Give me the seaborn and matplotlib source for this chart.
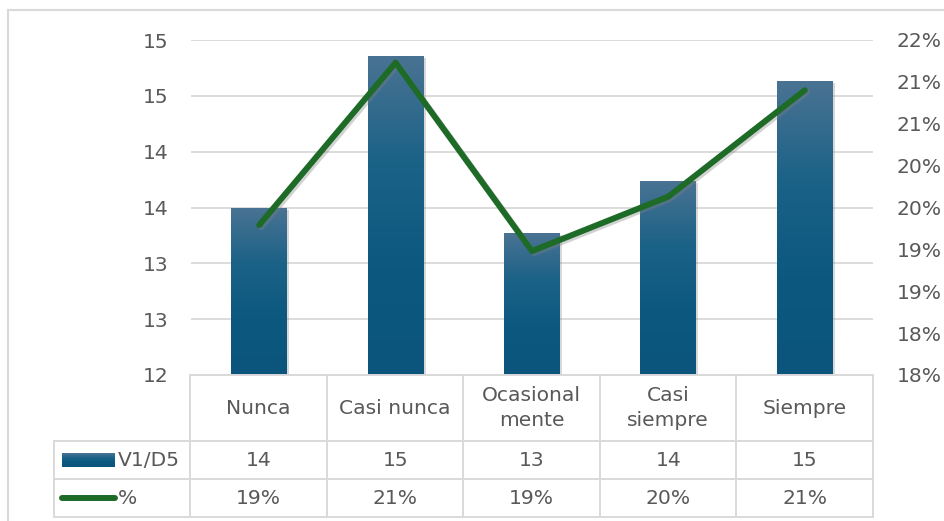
import numpy as np
import pandas as pd
import matplotlib.pyplot as plt
import seaborn as sns
from matplotlib import patheffects as pe
from matplotlib.colors import LinearSegmentedColormap
from matplotlib.lines import Line2D

# data
categories = ["Nunca", "Casi nunca", "Ocasionalmente", "Casi siempre", "Siempre"]
header_labels = ["Nunca", "Casi nunca", "Ocasional\nmente", "Casi\nsiempre", "Siempre"]
v1_d5 = [13.50, 14.86, 13.27, 13.74, 14.63]
pct = [0.1929, 0.2123, 0.1898, 0.1963, 0.2090]
bar_name = "V1/D5"
line_name = "%"

left_ticks = np.arange(12, 15.001, 0.5)
right_ticks = np.arange(0.175, 0.2151, 0.005)

TEXT = "#595959"
GRID = "#d9d9d9"
GREEN = "#1e6b28"
bar_cmap = LinearSegmentedColormap.from_list("bar", ["#4a7393", "#1b6287", "#0c587f", "#0b557c"])

W, H = 945, 521


def fx(px):
    return px / W


def fy(py):
    return 1 - py / H


def excel_round(v):
    # half-up rounding like the spreadsheet number format
    return int(np.floor(round(v, 6) + 0.5))


sns.set_theme(style="white")
plt.rcParams['font.family'] = ['DejaVu Sans']
FS = 14.6

df = pd.DataFrame({"categoria": categories, bar_name: v1_d5, line_name: pct})

fig = plt.figure(figsize=(W / 100, H / 100), dpi=100)
ax = fig.add_axes([fx(191), fy(375), fx(873) - fx(191), fy(40) - fy(375)])

sns.barplot(data=df, x="categoria", y=bar_name, ax=ax, width=0.41,
            color="#0c5880", saturation=1)
ax.set_ylim(12, 15)

grad = np.linspace(0, 1, 256).reshape(-1, 1)
for p in list(ax.patches):
    x0, w = p.get_x(), p.get_width()
    top = p.get_y() + p.get_height()
    p.set_facecolor("white")
    p.set_edgecolor("none")
    p.set_path_effects([pe.SimplePatchShadow(offset=(1.5, -1.5), shadow_rgbFace="gray", alpha=0.3),
                        pe.Normal()])
    im = ax.imshow(grad, cmap=bar_cmap, aspect="auto", origin="upper",
                   extent=[x0, x0 + w, 12, top], zorder=3, interpolation="bilinear")
    im.set_clip_path(p)

ax.set_yticks(left_ticks)
ax.set_yticklabels([f"{excel_round(t)}" for t in left_ticks])
ax.set_xticks([])
ax.set_xlabel("")
ax.set_ylabel("")
ax.yaxis.grid(True, color=GRID, linewidth=1.3)
ax.set_axisbelow(True)
ax.tick_params(axis="y", length=0, pad=16.5, labelsize=FS, labelcolor=TEXT)
for s in ax.spines.values():
    s.set_visible(False)

ax2 = ax.twinx()
sns.lineplot(x=np.arange(len(categories)), y=df[line_name], ax=ax2, color=GREEN,
             linewidth=4.3, solid_capstyle="round", solid_joinstyle="round",
             path_effects=[pe.SimpleLineShadow(offset=(1.5, -1.5), shadow_color="gray", alpha=0.35),
                           pe.Normal()])
ax2.set_ylim(0.175, 0.215)
ax2.set_yticks(right_ticks)
ax2.set_yticklabels([f"{excel_round(t * 100)}%" for t in right_ticks])
ax2.set_ylabel("")
ax2.tick_params(axis="y", length=0, pad=17, labelsize=FS, labelcolor=TEXT)
for s in ax2.spines.values():
    s.set_visible(False)
ax.set_xlim(-0.5, len(categories) - 0.5)

# data table under the plot
tab = fig.add_axes([fx(54), fy(519), fx(873) - fx(54), fy(375) - fy(519)])
tab.set_xlim(-1.5, len(categories) - 0.5)
tab.set_ylim(519, 375)
tab.axis("off")
n = len(categories)
lw = 1.4
tab.plot([-0.5, n - 0.5], [375, 375], color=GRID, lw=lw, clip_on=False)
for yy in (441, 479, 517):
    tab.plot([-1.5, n - 0.5], [yy, yy], color=GRID, lw=lw, clip_on=False)
tab.plot([-1.5, -1.5], [441, 517], color=GRID, lw=lw, clip_on=False)
for xx in np.arange(-0.5, n, 1.0):
    tab.plot([xx, xx], [375, 517], color=GRID, lw=lw, clip_on=False)

for i in range(n):
    tab.text(i, 408, header_labels[i], ha="center", va="center", fontsize=FS,
             color=TEXT, linespacing=1.4)
    tab.text(i, 460, f"{excel_round(v1_d5[i])}", ha="center", va="center",
             fontsize=FS, color=TEXT)
    tab.text(i, 498, f"{excel_round(pct[i] * 100)}%", ha="center", va="center",
             fontsize=FS, color=TEXT)

# legend keys
tab.imshow(grad, cmap=bar_cmap, aspect="auto", origin="upper",
           extent=[-1.441, -1.06, 467, 453], zorder=3)
tab.plot([-1.445, -1.055], [498, 498], color=GREEN, lw=4.3, solid_capstyle="round")
tab.text(-1.035, 460, bar_name, ha="left", va="center", fontsize=FS, color=TEXT)
tab.text(-1.035, 498, line_name, ha="left", va="center", fontsize=FS, color=TEXT)
tab.set_xlim(-1.5, len(categories) - 0.5)
tab.set_ylim(519, 375)

# chart frame
fig.add_artist(Line2D([fx(8), fx(8)], [fy(10), 0], color=GRID, lw=1.5))
fig.add_artist(Line2D([fx(8), 1], [fy(10), fy(10)], color=GRID, lw=1.5))

fig.savefig("out.png", dpi=100)
